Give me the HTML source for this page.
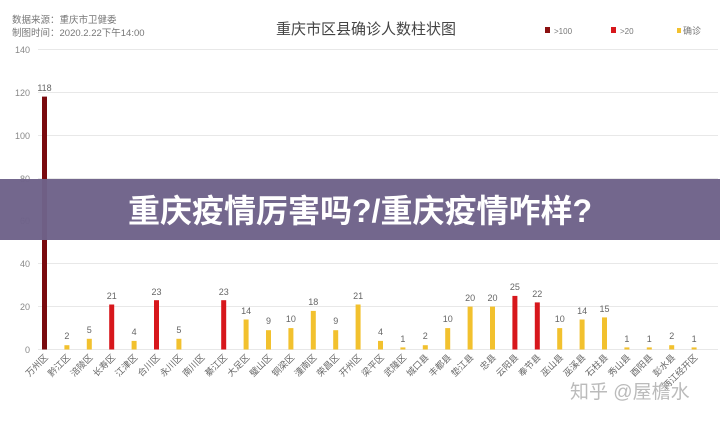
<!DOCTYPE html><html><head><meta charset="utf-8"><style>body{margin:0;background:#fff}svg{display:block}</style></head><body>
<svg width="720" height="421" xmlns="http://www.w3.org/2000/svg" font-family="Liberation Sans, Noto Sans CJK SC, sans-serif">
<rect width="720" height="421" fill="#fff"/>
<text x="12" y="23" font-size="9.5" fill="#777">数据来源：重庆市卫健委</text>
<text x="12" y="36" font-size="9.5" fill="#777">制图时间：2020.2.22下午14:00</text>
<text x="366" y="34" font-size="15" fill="#444" text-anchor="middle">重庆市区县确诊人数柱状图</text>
<rect x="545" y="27" width="5" height="6" fill="#8b1010"/><text x="554" y="34" font-size="8" fill="#777">&gt;100</text>
<rect x="611" y="27" width="5" height="6" fill="#d7171c"/><text x="620" y="34" font-size="8" fill="#777">&gt;20</text>
<rect x="677" y="28" width="4" height="5" fill="#f2c12e"/><text x="683" y="34" font-size="9" fill="#777">确诊</text>
<g stroke="#e8e8e8" stroke-width="1">
<line x1="38" x2="718" y1="49.5" y2="49.5"/><line x1="38" x2="718" y1="92.5" y2="92.5"/><line x1="38" x2="718" y1="135.5" y2="135.5"/><line x1="38" x2="718" y1="178.5" y2="178.5"/><line x1="38" x2="718" y1="220.5" y2="220.5"/><line x1="38" x2="718" y1="263.5" y2="263.5"/><line x1="38" x2="718" y1="306.5" y2="306.5"/><line x1="38" x2="718" y1="349.5" y2="349.5"/>
</g>
<g font-size="9" fill="#888" text-anchor="end">
<text x="30" y="53">140</text><text x="30" y="96">120</text><text x="30" y="139">100</text><text x="30" y="182">80</text><text x="30" y="224">60</text><text x="30" y="267">40</text><text x="30" y="310">20</text><text x="30" y="353">0</text>
</g>
<g>
<rect x="42" y="96.6" width="5" height="252.9" fill="#7a0a0e"/>
<rect x="64.4" y="345.2" width="5" height="4.3" fill="#f2c12e"/>
<rect x="86.8" y="338.8" width="5" height="10.7" fill="#f2c12e"/>
<rect x="109.2" y="304.5" width="5" height="45" fill="#d7171c"/>
<rect x="131.6" y="340.9" width="5" height="8.6" fill="#f2c12e"/>
<rect x="154" y="300.2" width="5" height="49.3" fill="#d7171c"/>
<rect x="176.4" y="338.8" width="5" height="10.7" fill="#f2c12e"/>
<rect x="221.2" y="300.2" width="5" height="49.3" fill="#d7171c"/>
<rect x="243.6" y="319.5" width="5" height="30" fill="#f2c12e"/>
<rect x="266" y="330.2" width="5" height="19.3" fill="#f2c12e"/>
<rect x="288.4" y="328.1" width="5" height="21.4" fill="#f2c12e"/>
<rect x="310.8" y="310.9" width="5" height="38.6" fill="#f2c12e"/>
<rect x="333.2" y="330.2" width="5" height="19.3" fill="#f2c12e"/>
<rect x="355.6" y="304.5" width="5" height="45" fill="#f2c12e"/>
<rect x="378" y="340.9" width="5" height="8.6" fill="#f2c12e"/>
<rect x="400.4" y="347.4" width="5" height="2.1" fill="#f2c12e"/>
<rect x="422.8" y="345.2" width="5" height="4.3" fill="#f2c12e"/>
<rect x="445.2" y="328.1" width="5" height="21.4" fill="#f2c12e"/>
<rect x="467.6" y="306.6" width="5" height="42.9" fill="#f2c12e"/>
<rect x="490" y="306.6" width="5" height="42.9" fill="#f2c12e"/>
<rect x="512.4" y="295.9" width="5" height="53.6" fill="#d7171c"/>
<rect x="534.8" y="302.4" width="5" height="47.1" fill="#d7171c"/>
<rect x="557.2" y="328.1" width="5" height="21.4" fill="#f2c12e"/>
<rect x="579.6" y="319.5" width="5" height="30" fill="#f2c12e"/>
<rect x="602" y="317.4" width="5" height="32.1" fill="#f2c12e"/>
<rect x="624.4" y="347.4" width="5" height="2.1" fill="#f2c12e"/>
<rect x="646.8" y="347.4" width="5" height="2.1" fill="#f2c12e"/>
<rect x="669.2" y="345.2" width="5" height="4.3" fill="#f2c12e"/>
<rect x="691.6" y="347.4" width="5" height="2.1" fill="#f2c12e"/>
</g>
<g font-size="9" fill="#666" text-anchor="middle">
<text x="44.5" y="91">118</text><text x="66.9" y="339">2</text><text x="89.3" y="333">5</text><text x="111.7" y="299">21</text><text x="134.1" y="335">4</text><text x="156.5" y="295">23</text><text x="178.9" y="333">5</text><text x="223.7" y="295">23</text><text x="246.1" y="314">14</text><text x="268.5" y="324">9</text><text x="290.9" y="322">10</text><text x="313.3" y="305">18</text><text x="335.7" y="324">9</text><text x="358.1" y="299">21</text><text x="380.5" y="335">4</text><text x="402.9" y="342">1</text><text x="425.3" y="339">2</text><text x="447.7" y="322">10</text><text x="470.1" y="301">20</text><text x="492.5" y="301">20</text><text x="514.9" y="290">25</text><text x="537.3" y="297">22</text><text x="559.7" y="322">10</text><text x="582.1" y="314">14</text><text x="604.5" y="312">15</text><text x="626.9" y="342">1</text><text x="649.3" y="342">1</text><text x="671.7" y="339">2</text><text x="694.1" y="342">1</text>
</g>
<g font-size="9" fill="#666" text-anchor="end">
<text transform="translate(48.5,358) rotate(-45)">万州区</text>
<text transform="translate(70.9,358) rotate(-45)">黔江区</text>
<text transform="translate(93.3,358) rotate(-45)">涪陵区</text>
<text transform="translate(115.7,358) rotate(-45)">长寿区</text>
<text transform="translate(138.1,358) rotate(-45)">江津区</text>
<text transform="translate(160.5,358) rotate(-45)">合川区</text>
<text transform="translate(182.9,358) rotate(-45)">永川区</text>
<text transform="translate(205.3,358) rotate(-45)">南川区</text>
<text transform="translate(227.7,358) rotate(-45)">綦江区</text>
<text transform="translate(250.1,358) rotate(-45)">大足区</text>
<text transform="translate(272.5,358) rotate(-45)">璧山区</text>
<text transform="translate(294.9,358) rotate(-45)">铜梁区</text>
<text transform="translate(317.3,358) rotate(-45)">潼南区</text>
<text transform="translate(339.7,358) rotate(-45)">荣昌区</text>
<text transform="translate(362.1,358) rotate(-45)">开州区</text>
<text transform="translate(384.5,358) rotate(-45)">梁平区</text>
<text transform="translate(406.9,358) rotate(-45)">武隆区</text>
<text transform="translate(429.3,358) rotate(-45)">城口县</text>
<text transform="translate(451.7,358) rotate(-45)">丰都县</text>
<text transform="translate(474.1,358) rotate(-45)">垫江县</text>
<text transform="translate(496.5,358) rotate(-45)">忠县</text>
<text transform="translate(518.9,358) rotate(-45)">云阳县</text>
<text transform="translate(541.3,358) rotate(-45)">奉节县</text>
<text transform="translate(563.7,358) rotate(-45)">巫山县</text>
<text transform="translate(586.1,358) rotate(-45)">巫溪县</text>
<text transform="translate(608.5,358) rotate(-45)">石柱县</text>
<text transform="translate(630.9,358) rotate(-45)">秀山县</text>
<text transform="translate(653.3,358) rotate(-45)">酉阳县</text>
<text transform="translate(675.7,358) rotate(-45)">彭水县</text>
<text transform="translate(698.1,358) rotate(-45)">两江经开区</text>
</g>
<rect x="0" y="179" width="720" height="61" fill="#6e6289" fill-opacity="0.97"/>
<text x="360" y="222" font-size="32" font-weight="bold" fill="#fff" text-anchor="middle">重庆疫情厉害吗?/重庆疫情咋样?</text>
<text x="570" y="398" font-size="19" fill="#bbb">知乎 @屋檐水</text>
</svg></body></html>
